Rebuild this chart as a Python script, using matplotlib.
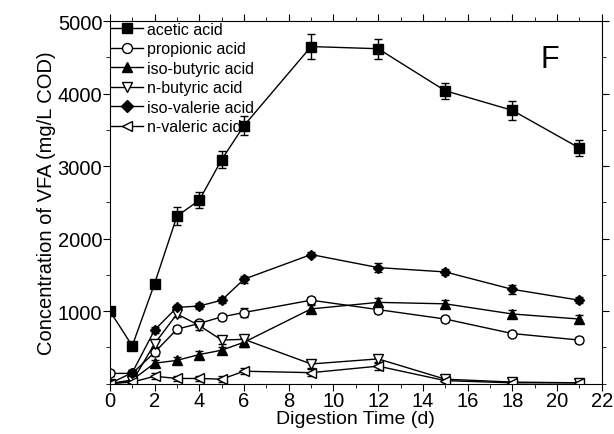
import matplotlib
matplotlib.use('Agg')
import matplotlib.pyplot as plt
from matplotlib.ticker import MultipleLocator

plt.rcParams['font.family'] = ['Liberation Sans', 'DejaVu Sans']

# 消化时间 (d)
days = [0, 1, 2, 3, 4, 5, 6, 9, 12, 15, 18, 21]

acetic = [1000, 520, 1380, 2310, 2530, 3090, 3560, 4650, 4620, 4040, 3770, 3250]
acetic_err = [40, 40, 50, 120, 110, 120, 130, 170, 140, 110, 130, 110]
propionic = [140, 140, 430, 750, 830, 920, 980, 1150, 1020, 890, 690, 600]
propionic_err = [40, 30, 50, 50, 50, 40, 60, 50, 40, 40, 40, 40]
iso_butyric = [0, 50, 280, 320, 400, 460, 570, 1030, 1120, 1100, 960, 890]
iso_butyric_err = [20, 30, 40, 40, 50, 50, 60, 60, 60, 50, 50, 50]
n_butyric = [0, 30, 550, 960, 800, 600, 610, 270, 340, 60, 20, 10]
n_butyric_err = [20, 30, 50, 40, 60, 50, 60, 60, 50, 40, 30, 20]
iso_valeric = [0, 150, 740, 1050, 1070, 1150, 1440, 1780, 1600, 1540, 1300, 1150]
iso_valeric_err = [20, 30, 40, 40, 40, 40, 50, 40, 60, 40, 60, 40]
n_valeric = [0, 20, 100, 70, 70, 60, 170, 150, 240, 40, 10, 10]
n_valeric_err = [20, 30, 40, 40, 40, 40, 40, 50, 60, 40, 30, 20]

fig = plt.figure(figsize=(6.14, 4.35), dpi=100)
ax = fig.add_axes([0.179, 0.116, 0.801, 0.833])

series = [
    (acetic, acetic_err, 's', 'k', 'acetic acid'),
    (propionic, propionic_err, 'o', 'w', 'propionic acid'),
    (iso_butyric, iso_butyric_err, '^', 'k', 'iso-butyric acid'),
    (n_butyric, n_butyric_err, 'v', 'w', 'n-butyric acid'),
    (iso_valeric, iso_valeric_err, 'D', 'k', 'iso-valerie acid'),
    (n_valeric, n_valeric_err, '<', 'w', 'n-valeric acid'),
]
for y, err, m, fc, name in series:
    ms = 5.5 if m == 'D' else 6.5
    ax.errorbar(days, y, yerr=err, color='k', marker=m, markersize=ms,
                markerfacecolor=fc, markeredgecolor='k', linewidth=1,
                elinewidth=1, capsize=3, label=name)

ax.set_xlim(0, 22)
ax.set_ylim(0, 5000)
ax.xaxis.set_major_locator(MultipleLocator(2))
ax.xaxis.set_minor_locator(MultipleLocator(1))
ax.yaxis.set_major_locator(MultipleLocator(1000))
ax.yaxis.set_minor_locator(MultipleLocator(500))
ax.set_yticks([1000, 2000, 3000, 4000, 5000])
ax.tick_params(which='both', direction='out', top=True, right=True,
               labeltop=False, labelright=False, labelsize=14.5, pad=0.5)
ax.tick_params(which='major', length=5)
ax.tick_params(which='minor', length=3)

ax.set_xlabel('Digestion Time (d)', fontsize=14, labelpad=0)
ax.set_ylabel('Concentration of VFA (mg/L COD)', fontsize=14.5, labelpad=1)
ax.text(0.895, 0.895, 'F', transform=ax.transAxes, fontsize=22, ha='center', va='center')

handles, labels = ax.get_legend_handles_labels()
handles = [h[0] for h in handles]
ax.legend(handles, labels, loc='upper left', frameon=False, fontsize=11.5,
          borderaxespad=0.0, borderpad=0.05, handlelength=2.0, handletextpad=0.3,
          labelspacing=0.28, markerscale=1.1)

fig.savefig('out.png', dpi=100)
